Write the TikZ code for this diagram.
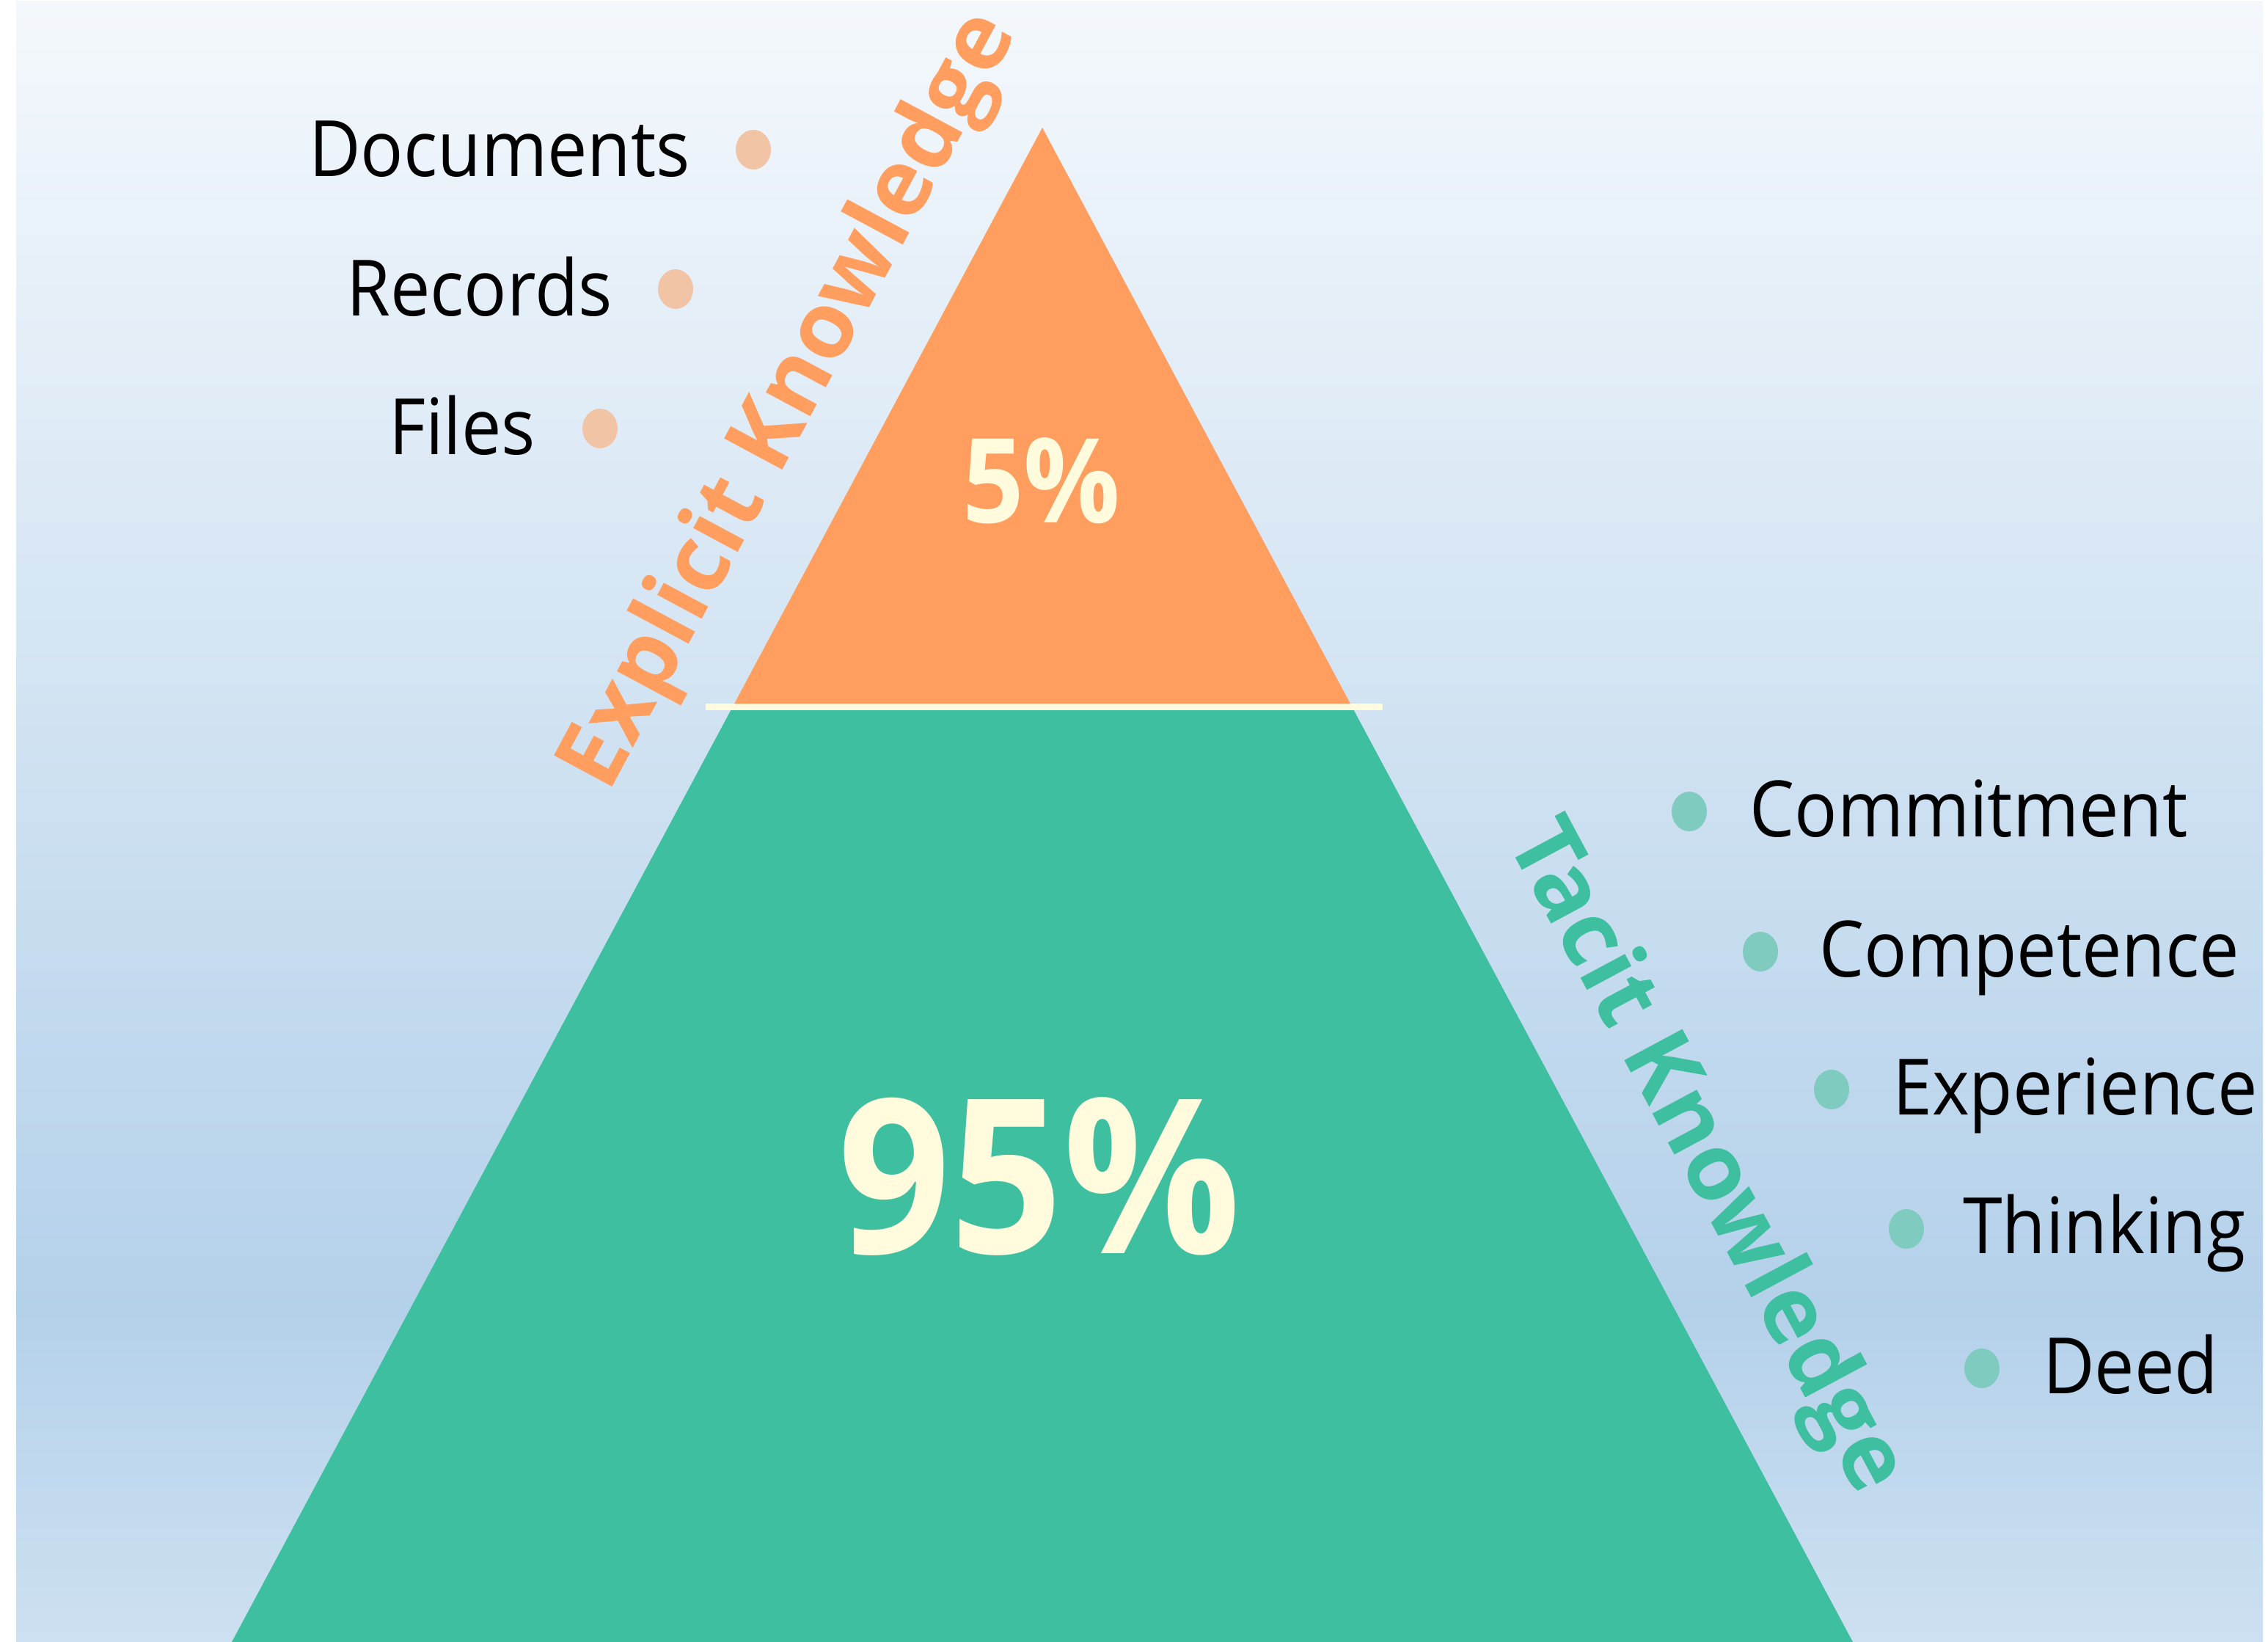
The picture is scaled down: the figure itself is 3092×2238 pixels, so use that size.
\documentclass[tikz,border=0pt]{standalone}
\usepackage{fontspec}
\setmainfont{Open Sans}
\usetikzlibrary{shapes.geometric}
\definecolor{bgtop}{HTML}{F4F8FC}
\definecolor{bgmid}{HTML}{B4D1EA}
\definecolor{bgbot}{HTML}{CDE0F1}
\definecolor{orangeF}{HTML}{FF9E5E}
\definecolor{greenF}{HTML}{3EBF9F}
\definecolor{creamF}{HTML}{FFFBDC}
\definecolor{odot}{HTML}{F2C4A6}
\definecolor{gdot}{HTML}{80CBC0}
\newcommand\sqz[1]{\scalebox{0.915}[1]{#1}}
\tikzset{
  lbl/.style={inner sep=0pt, text=black, font=\fontsize{106}{127}\selectfont},
  dotO/.style={ellipse, fill=odot, minimum width=48pt, minimum height=54pt, inner sep=0pt},
  dotG/.style={ellipse, fill=gdot, minimum width=48pt, minimum height=54pt, inner sep=0pt},
  sidelbl/.style={inner sep=0pt, font=\fontsize{126}{150}\bfseries\selectfont},
  pct/.style={inner sep=0pt, text=creamF, font=\bfseries}
}
\begin{document}
\begin{tikzpicture}[x=1pt,y=-1pt]
\useasboundingbox (0,0) rectangle (3092,2238);
\fill[white] (0,0) rectangle (3092,2238);
\shade[top color=bgtop, bottom color=bgmid] (22,1) rectangle (3085,1781);
\shade[top color=bgmid, bottom color=bgbot] (22,1780) rectangle (3085,2238);

% pyramid
\coordinate (apex) at (1421,174);
\coordinate (ol) at (999,963);
\coordinate (or) at (1843,963);
\coordinate (gl) at (316,2238);
\coordinate (gr) at (2526,2238);
\coordinate (sepL) at (962,963);
\coordinate (sepR) at (1885,963);
\fill[orangeF] (apex) -- (ol) -- (or) -- cycle;
\fill[greenF] (ol) -- (gl) -- (gr) -- (or) -- cycle;
\draw[creamF, line width=9pt] (sepL) -- (sepR);

\node[pct, font=\fontsize{160}{190}\bfseries\selectfont] (p5) at (1420,655) {\sqz{5\%}};
\node[pct, font=\fontsize{294}{340}\bfseries\selectfont] (p95) at (1417,1603) {\sqz{95\%}};

% rotated side labels
\node[sidelbl, text=orangeF, rotate=61.8] (explicit) at (1079,548) {Explicit Knowledge};
\node[sidelbl, text=greenF, rotate=-61.8] (tacit) at (2323,1578) {Tacit Knowledge};

% left list
\node[dotO] (d1) at (1027,204) {};
\node[dotO] (d2) at (921,394) {};
\node[dotO] (d3) at (818,584) {};
\node[lbl, anchor=base east] (t1) at (941,240) {\sqz{Documents}};
\node[lbl, anchor=base east] (t2) at (835,430) {\sqz{Records}};
\node[lbl, anchor=base east] (t3) at (730,619) {\sqz{Files}};

% right list
\node[dotG] (e1) at (2303,1106) {};
\node[dotG] (e2) at (2400,1297) {};
\node[dotG] (e3) at (2497,1485) {};
\node[dotG] (e4) at (2599,1675) {};
\node[dotG] (e5) at (2702,1865) {};
\node[lbl, anchor=base west] (r1) at (2385,1140) {\sqz{Commitment}};
\node[lbl, anchor=base west] (r2) at (2480,1331) {\sqz{Competence}};
\node[lbl, anchor=base west] (r3) at (2580,1519) {\sqz{Experience}};
\node[lbl, anchor=base west] (r4) at (2676,1708) {\sqz{Thinking}};
\node[lbl, anchor=base west] (r5) at (2785,1899) {\sqz{Deed}};
\end{tikzpicture}
\end{document}
